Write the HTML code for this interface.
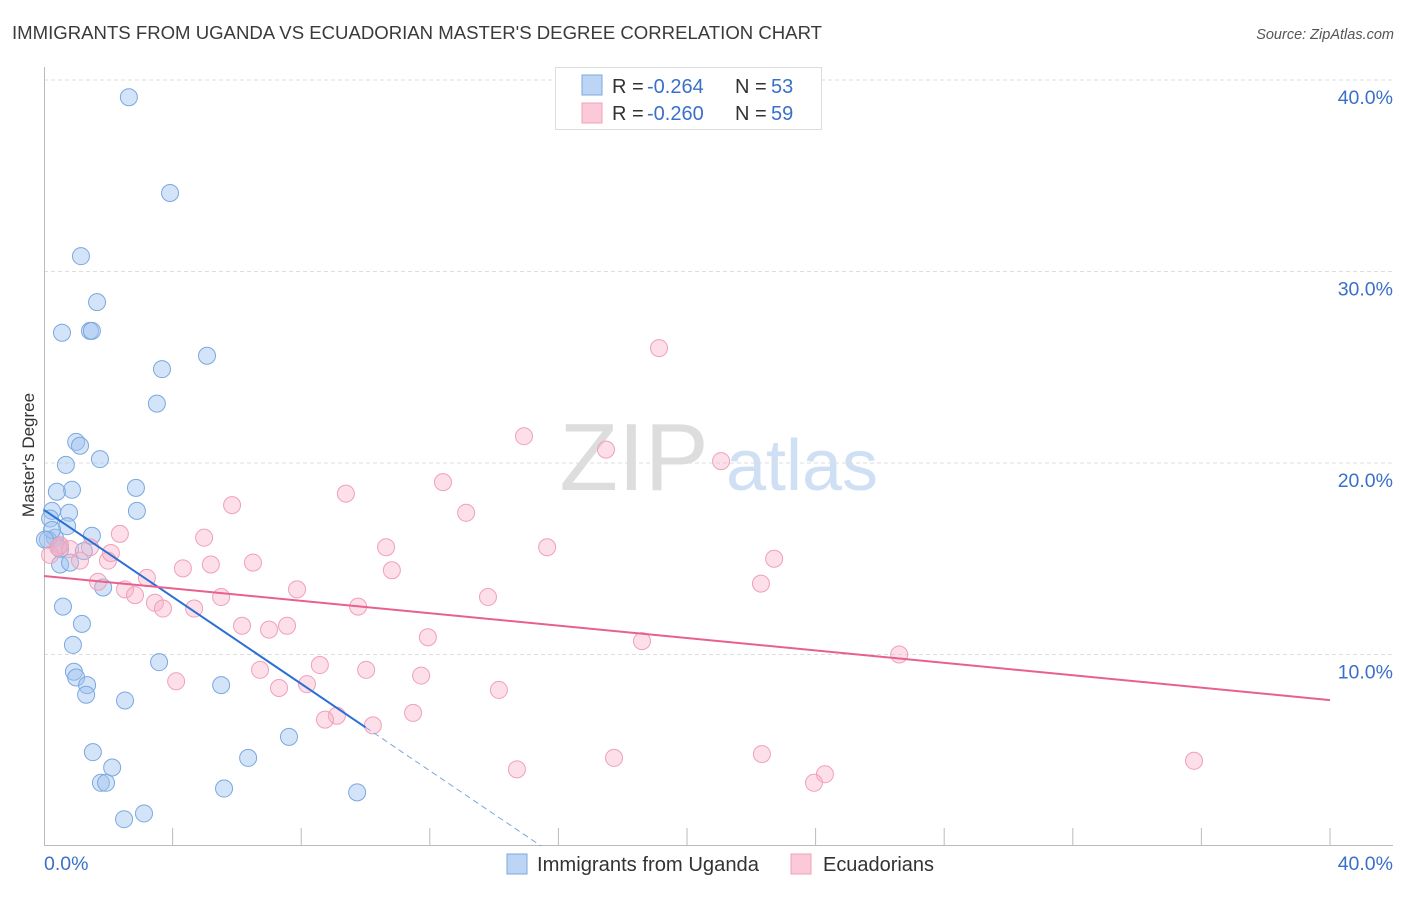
<!DOCTYPE html>
<html><head><meta charset="utf-8"><style>
body{margin:0;background:#fff;font-family:"Liberation Sans",sans-serif}
svg text{font-family:"Liberation Sans",sans-serif}
</style></head><body>
<svg id="chart" width="1406" height="892" viewBox="0 0 1406 892">
<text x="12" y="39" font-size="18" fill="#3a3a3a" textLength="810" lengthAdjust="spacingAndGlyphs">IMMIGRANTS FROM UGANDA VS ECUADORIAN MASTER'S DEGREE CORRELATION CHART</text>
<text x="1394" y="39" font-size="14.5" fill="#555" font-style="italic" text-anchor="end">Source: ZipAtlas.com</text>
<g>
<text x="634" y="490" font-size="96" fill="#ddd" font-family="Liberation Serif" text-anchor="middle">ZIP</text>
<text x="802" y="490" font-size="72" fill="#cfe0f4" text-anchor="middle">atlas</text>
</g>
<g id="grid"></g>
<g id="axes"></g>
<g id="marks"></g>
<text transform="translate(34,455) rotate(-90)" font-size="17" fill="#333" text-anchor="middle">Master's Degree</text>
<g>
<rect x="555.5" y="67.5" width="266" height="62" fill="#fff" stroke="#ddd"/>
<rect x="582" y="75" width="20" height="20" fill="#bcd5f5" stroke="#7aa8e0"/>
<text x="612" y="93" font-size="20" fill="#333">R =</text>
<text x="647" y="93" font-size="20" fill="#3a70c8">-0.264</text>
<text x="735" y="93" font-size="20" fill="#333">N =</text>
<text x="771" y="93" font-size="20" fill="#3a70c8">53</text>
<rect x="582" y="103" width="20" height="20" fill="#fbcad8" stroke="#f0a0b8"/>
<text x="612" y="120" font-size="20" fill="#333">R =</text>
<text x="647" y="120" font-size="20" fill="#3a70c8">-0.260</text>
<text x="735" y="120" font-size="20" fill="#333">N =</text>
<text x="771" y="120" font-size="20" fill="#3a70c8">59</text>
</g>
<g>
<rect x="507" y="854" width="20" height="20" fill="#bcd5f5" stroke="#7aa8e0"/>
<text x="537" y="871" font-size="20" fill="#333" textLength="222" lengthAdjust="spacingAndGlyphs">Immigrants from Uganda</text>
<rect x="791" y="854" width="20" height="20" fill="#fbcad8" stroke="#f0a0b8"/>
<text x="823" y="871" font-size="20" fill="#333" textLength="111" lengthAdjust="spacingAndGlyphs">Ecuadorians</text>
</g>
</svg>
<script>
const yTicks=[10,20,30,40];
const yTickLabels=["10.0%","20.0%","30.0%","40.0%"];
const xTickLabels=["0.0%","40.0%"];
const blueX=[2.64,3.92,1.15,1.65,0.56,1.43,1.49,5.07,3.67,3.51,1.0,1.12,0.68,1.74,0.87,0.4,2.86,2.89,0.25,0.78,0.72,0.19,0.34,0.12,1.49,0.5,1.24,0.5,0.81,1.84,0.59,1.18,0.9,3.58,0.93,1.0,1.34,1.31,5.51,2.52,1.52,2.12,1.77,1.93,6.35,7.62,5.6,9.74,2.49,3.11,0.5,0.25,0.03];
const blueY=[39.1,34.1,30.8,28.4,26.8,26.9,26.9,25.6,24.9,23.1,21.1,20.9,19.9,20.2,18.6,18.5,18.7,17.5,17.5,17.4,16.7,17.1,16.1,16.0,16.2,15.5,15.4,14.7,14.8,13.5,12.5,11.6,10.5,9.6,9.1,8.8,8.4,7.9,8.4,7.6,4.9,4.1,3.3,3.3,4.6,5.7,3.0,2.8,1.4,1.7,15.7,16.5,16.0];
const pinkX=[19.13,14.93,17.48,21.06,9.39,12.41,13.13,5.85,4.98,2.36,10.64,15.65,10.82,22.71,6.5,5.19,4.32,3.2,1.68,22.3,7.87,1.99,1.12,2.08,0.5,0.19,2.52,2.83,3.45,3.7,5.51,4.67,13.81,9.77,6.16,7.0,7.56,11.94,18.6,26.6,8.58,10.02,6.72,4.11,7.31,8.18,11.73,14.15,11.48,9.11,8.74,10.23,17.73,22.33,14.71,24.29,23.95,35.77,0.44,0.81,1.43];
const pinkY=[26.0,21.4,20.7,20.1,18.4,19.0,17.4,17.8,16.1,16.3,15.6,15.6,14.4,15.0,14.8,14.7,14.5,14.0,13.8,13.7,13.4,14.9,14.9,15.3,15.7,15.2,13.4,13.1,12.7,12.4,13.0,12.4,13.0,12.5,11.5,11.3,11.5,10.9,10.7,10.0,9.45,9.2,9.2,8.6,8.25,8.45,8.9,8.15,6.95,6.8,6.6,6.3,4.6,4.8,4.0,3.75,3.3,4.45,15.6,15.5,15.6];
const blueTrend=[17.55,-1.135];
const pinkTrend=[14.1,-0.162];
const X0=44,X1=1330,Y0=846,Y40=80;
const sx=v=>X0+v*(X1-X0)/40, sy=v=>Y0-v*(Y0-Y40)/40;
const NS="http://www.w3.org/2000/svg";
function mk(tag,attrs,parent){const e=document.createElementNS(NS,tag);for(const k in attrs)e.setAttribute(k,attrs[k]);parent.appendChild(e);return e;}
const grid=document.getElementById('grid'),axes=document.getElementById('axes'),marks=document.getElementById('marks');
yTicks.forEach((t,i)=>{
 const l=mk('line',{x1:44,x2:1393,y1:sy(t),y2:sy(t),stroke:'#ddd','stroke-dasharray':'4,3'},grid);
 
 
 const tx=mk('text',{x:1393,y:sy(t)+24,'font-size':19.5,fill:'#3a70c8','text-anchor':'end'},axes);
 tx.textContent=yTickLabels[i];
 
 
});
const ya=mk('line',{x1:44.5,x2:44.5,y1:67,y2:846,stroke:'#bbb'},axes);


const xa=mk('line',{x1:44,x2:1393,y1:845.5,y2:845.5,stroke:'#bbb'},axes);


for(let v=4;v<=40;v+=4){
 const tk=mk('line',{x1:sx(v),x2:sx(v),y1:828,y2:846,stroke:'#bbb'},axes);
 
 
}
const xl0=mk('text',{x:44,y:870,'font-size':19.5,fill:'#3a70c8'},axes);xl0.textContent=xTickLabels[0];


const xl1=mk('text',{x:1393,y:870,'font-size':19.5,fill:'#3a70c8','text-anchor':'end'},axes);xl1.textContent=xTickLabels[1];


function pts(xs,ys,fill,stroke,name){xs.forEach((x,i)=>{
 const c=mk('circle',{cx:sx(x),cy:sy(ys[i]),r:8.5,fill:fill,stroke:stroke,'stroke-width':1},marks);
 
 
});}
pts(blueX,blueY,'rgba(160,196,240,0.45)','#7aa8e0','uganda-point');
pts(pinkX,pinkY,'rgba(248,175,198,0.4)','#f0a0b8','ecuadorian-point');
const bEnd=10,bZero=-blueTrend[0]/blueTrend[1];
const bl=mk('line',{x1:sx(0),y1:sy(blueTrend[0]),x2:sx(bEnd),y2:sy(blueTrend[0]+blueTrend[1]*bEnd),stroke:'#2a6fd6','stroke-width':2},marks);


const bd=mk('line',{x1:sx(bEnd),y1:sy(blueTrend[0]+blueTrend[1]*bEnd),x2:sx(bZero),y2:sy(0),stroke:'#7aa8e0','stroke-width':1,'stroke-dasharray':'6,4'},marks);


const pl=mk('line',{x1:sx(0),y1:sy(pinkTrend[0]),x2:sx(40),y2:sy(pinkTrend[0]+pinkTrend[1]*40),stroke:'#e8608f','stroke-width':2},marks);


</script>
</body></html>
